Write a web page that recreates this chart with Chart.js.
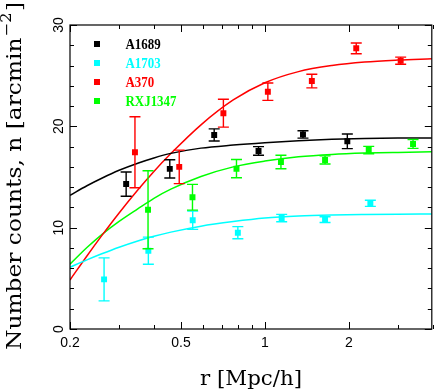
<!DOCTYPE html>
<html><head><meta charset="utf-8">
<script src="https://cdn.jsdelivr.net/npm/chart.js@4"></script>
<style>html,body{margin:0;padding:0;background:#fff}canvas{display:block}</style>
</head><body><canvas id="c" width="436" height="391"></canvas>
<script>
// ---- data ----
const seriesNames = ['A1689', 'A1703', 'A370', 'RXJ1347'];
const seriesColors = ['#000000', '#00ffff', '#ff0000', '#00ff00'];

const r_A1689 = [0.318, 0.456, 0.658, 0.949, 1.37, 1.976];
const n_A1689 = [14.3, 15.8, 19.15, 17.57, 19.2, 18.52];
const e_A1689 = [1.2, 0.9, 0.6, 0.43, 0.36, 0.72];

const r_A1703 = [0.265, 0.382, 0.551, 0.800, 1.149, 1.644, 2.39];
const n_A1703 = [4.9, 7.73, 10.73, 9.5, 10.95, 10.79, 12.4];
const e_A1703 = [2.12, 1.34, 0.9, 0.6, 0.36, 0.28, 0.3];

const r_A370 = [0.342, 0.493, 0.710, 1.025, 1.474, 2.127, 3.07];
const n_A370 = [17.44, 16.0, 21.3, 23.42, 24.47, 27.7, 26.48];
const e_A370 = [3.5, 1.65, 1.38, 0.86, 0.67, 0.53, 0.35];

const r_RXJ1347 = [0.381, 0.550, 0.791, 1.142, 1.644, 2.358, 3.40];
const n_RXJ1347 = [11.77, 13.0, 15.82, 16.48, 16.68, 17.66, 18.26];
const e_RXJ1347 = [3.85, 1.27, 0.9, 0.67, 0.4, 0.36, 0.44];

// fitted curves
const curveR      = [0.2, 0.23, 0.26, 0.3, 0.35, 0.4, 0.46, 0.59, 0.77, 1.0, 1.32, 1.74, 2.28, 3.0, 3.97];
const fit_A1689   = [13.2, 14.14, 14.88, 15.66, 16.36, 16.88, 17.33, 17.85, 18.15, 18.38, 18.58, 18.72, 18.8, 18.84, 18.86];
const fit_A1703   = [6.09, 6.82, 7.42, 8.07, 8.69, 9.15, 9.56, 10.15, 10.6, 10.95, 11.15, 11.25, 11.3, 11.33, 11.35];
const fit_A370    = [4.84, 7.21, 9.21, 11.45, 13.72, 15.55, 17.31, 20.15, 22.6, 24.3, 25.4, 26.0, 26.35, 26.54, 26.66];
const fit_RXJ1347 = [6.4, 8.04, 9.32, 10.62, 11.86, 12.9, 13.8, 15.05, 16.0, 16.57, 16.99, 17.23, 17.36, 17.43, 17.48];

const xTickLabels = ['0.2', '0.5', '1', '2'];
const xMajorTicks = [0.2, 0.5, 1, 2];
const xMinorTicks = [0.3, 0.4, 0.6, 0.7, 0.8, 0.9, 3, 4];
const yTickLabels = ['0', '10', '20', '30'];
const yMajorTicks = [0, 10, 20, 30];
const yMinorTicks = [2, 4, 6, 8, 12, 14, 16, 18, 22, 24, 26, 28];

const xTitle = 'r [Mpc/h]';
const yTitleMain = 'Number counts, n [arcmin';
const yTitleSup = '\u22122';
const yTitleEnd = ']';

// ---- build ----
const R = [r_A1689, r_A1703, r_A370, r_RXJ1347];
const N = [n_A1689, n_A1703, n_A370, n_RXJ1347];
const E = [e_A1689, e_A1703, e_A370, e_RXJ1347];
const F = [fit_A1689, fit_A1703, fit_A370, fit_RXJ1347];

const datasets = [];
seriesNames.forEach((name, i) => {
  datasets.push({
    label: name + ' fit',
    data: curveR.map((r, k) => ({x: r, y: F[i][k]})),
    showLine: true, pointRadius: 0, borderColor: seriesColors[i], borderWidth: 1.5,
    cubicInterpolationMode: 'monotone', order: 2, fill: false
  });
});
seriesNames.forEach((name, i) => {
  datasets.push({
    label: name,
    data: R[i].map((r, k) => ({x: r, y: N[i][k], err: E[i][k]})),
    showLine: false, pointStyle: 'rect', pointRadius: 4.2, borderWidth: 0,
    backgroundColor: seriesColors[i], borderColor: seriesColors[i], order: 1,
    isPoints: true
  });
});

function fitText(ctx, text, target) {
  return target / ctx.measureText(text).width;
}

const decor = {
  id: 'decor',
  afterDatasetsDraw(chart) {
    const ctx = chart.ctx, xs = chart.scales.x, ys = chart.scales.y;
    ctx.save();
    chart.data.datasets.forEach(ds => {
      if (!ds.isPoints) return;
      ctx.strokeStyle = ds.borderColor; ctx.lineWidth = 1.4;
      ds.data.forEach(p => {
        const px = xs.getPixelForValue(p.x);
        const y1 = ys.getPixelForValue(p.y + p.err), y2 = ys.getPixelForValue(p.y - p.err);
        ctx.beginPath();
        ctx.moveTo(px, y1); ctx.lineTo(px, y2);
        ctx.moveTo(px - 5.5, y1); ctx.lineTo(px + 5.5, y1);
        ctx.moveTo(px - 5.5, y2); ctx.lineTo(px + 5.5, y2);
        ctx.stroke();
      });
    });
    ctx.restore();
  },
  afterDraw(chart) {
    const ctx = chart.ctx, xs = chart.scales.x, ys = chart.scales.y, a = chart.chartArea;
    ctx.save();
    // frame
    ctx.strokeStyle = '#000'; ctx.lineWidth = 1.2;
    ctx.strokeRect(a.left, a.top, a.right - a.left, a.bottom - a.top);
    ctx.lineWidth = 1;
    ctx.beginPath();
    const xt = (v, len) => { const p = Math.round(xs.getPixelForValue(v)) + 0.5;
      ctx.moveTo(p, a.bottom); ctx.lineTo(p, a.bottom - len);
      ctx.moveTo(p, a.top); ctx.lineTo(p, a.top + len); };
    const yt = (v, len) => { const p = Math.round(ys.getPixelForValue(v)) + 0.5;
      ctx.moveTo(a.left, p); ctx.lineTo(a.left + len, p);
      ctx.moveTo(a.right, p); ctx.lineTo(a.right - len, p); };
    xMajorTicks.forEach(v => xt(v, 7)); xMinorTicks.forEach(v => xt(v, 4));
    yMajorTicks.forEach(v => yt(v, 7)); yMinorTicks.forEach(v => yt(v, 4));
    ctx.stroke();
    // tick labels
    ctx.fillStyle = '#000';
    ctx.font = '14px "Liberation Sans", Arial, sans-serif';
    ctx.textAlign = 'center'; ctx.textBaseline = 'alphabetic';
    xMajorTicks.forEach((v, i) => ctx.fillText(xTickLabels[i], xs.getPixelForValue(v), 347));
    yMajorTicks.forEach((v, i) => {
      ctx.save(); ctx.translate(63, ys.getPixelForValue(v)); ctx.rotate(-Math.PI / 2);
      ctx.fillText(yTickLabels[i], 0, 0); ctx.restore();
    });
    // x title
    ctx.font = '20px "DejaVu Serif", serif';
    ctx.textAlign = 'left';
    let s = fitText(ctx, xTitle, 102);
    ctx.save(); ctx.translate(200, 385); ctx.scale(s, 1); ctx.fillText(xTitle, 0, 0); ctx.restore();
    // y title
    ctx.save();
    ctx.translate(21, 350); ctx.rotate(-Math.PI / 2);
    const mainF = '20px "DejaVu Serif", serif', supF = '14px "DejaVu Serif", serif';
    ctx.font = mainF; const w1 = ctx.measureText(yTitleMain).width, w3 = ctx.measureText(yTitleEnd).width;
    ctx.font = supF; const w2 = ctx.measureText(yTitleSup).width;
    s = 348 / (w1 + w2 + w3 + 2);
    ctx.scale(s, 1);
    ctx.font = mainF; ctx.fillText(yTitleMain, 0, 0);
    ctx.font = supF; ctx.fillText(yTitleSup, w1 + 1, -10);
    ctx.font = mainF; ctx.fillText(yTitleEnd, w1 + w2 + 2, 0);
    ctx.restore();
    // legend
    const ly = [44, 63, 82, 101];
    ctx.font = 'bold 14px "Liberation Serif", serif';
    const ls = fitText(ctx, 'RXJ1347', 51);
    seriesNames.forEach((name, i) => {
      ctx.fillStyle = seriesColors[i];
      ctx.fillRect(94, ly[i] - 3, 6, 6);
      ctx.save(); ctx.translate(125.5, ly[i] + 5); ctx.scale(ls, 1);
      ctx.fillText(name, 0, 0); ctx.restore();
    });
    ctx.restore();
  }
};

new Chart(document.getElementById('c'), {
  type: 'scatter',
  data: { datasets },
  options: {
    responsive: false, animation: false, devicePixelRatio: 1,
    layout: { padding: { left: 70, right: 1, top: 25, bottom: 62 } },
    plugins: { legend: { display: false }, tooltip: { enabled: false } },
    scales: {
      x: { type: 'logarithmic', min: 0.2, max: 3.97, display: false },
      y: { type: 'linear', min: 0, max: 30, display: false }
    }
  },
  plugins: [decor]
});
</script>
</body></html>
